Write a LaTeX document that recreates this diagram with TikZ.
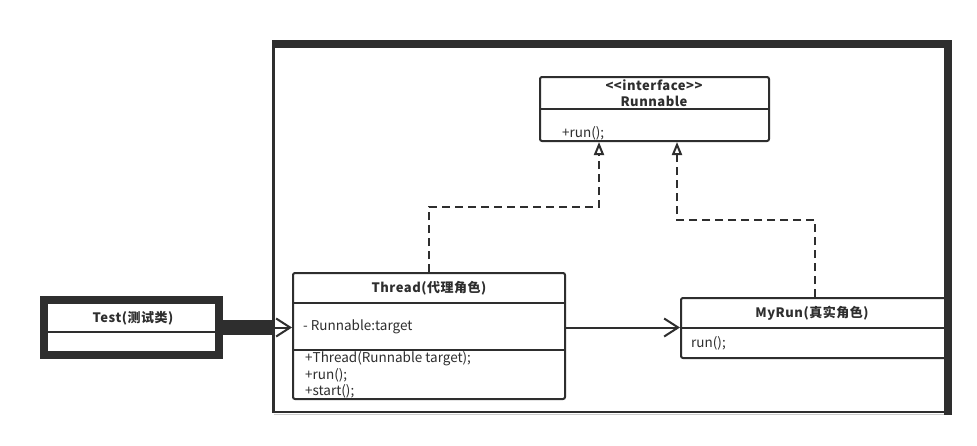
\documentclass[tikz,border=0pt]{standalone}
\usepackage{fontspec}
\setmainfont{Noto Sans CJK SC}
\usepackage{tikz}
\usepackage{xcolor}
\usetikzlibrary{arrows.meta}
\definecolor{ink}{HTML}{2E2E2E}

\begin{document}
\begin{tikzpicture}[x=1pt,y=-1pt,
	box/.style={draw=ink,line width=2pt,rounded corners=2pt,fill=white,inner sep=0pt,anchor=north west},
	title/.style={text=ink,inner sep=0pt,font=\bfseries\fontsize{13}{15}\selectfont\addfontfeature{LetterSpace=4}},
	member/.style={text=ink,inner sep=0pt,anchor=west,font=\fontsize{13.5}{15}\selectfont},
	realize/.style={draw=ink,line width=2pt,dash pattern=on 8pt off 5pt,-{Triangle[open,length=13pt,width=10pt]}},
	assoc/.style={draw=ink,line width=2pt,-{Straight Barb[length=14pt,width=18pt]}}]
% page
	\fill[white] (0,0) rectangle (977,445);
	\useasboundingbox (0,0) rectangle (977,445);
% Runnable
	\node[box,minimum width=229pt,minimum height=64pt] (runnable) at (539,76) {};
	\draw[ink,line width=2pt] (540,109) -- (769,109);
	\node[title] (stereo) at (654,85) {<{}<interface>{}>};
	\node[title] (runnablename) at (654,101) {Runnable};
	\node[member] (runnablerun) at (562,133) {+run();};
% Thread
	\node[box,minimum width=272pt,minimum height=126pt] (thread) at (292,272) {};
	\draw[ink,line width=2pt] (293,303) -- (565,303);
	\draw[ink,line width=2pt] (293,350) -- (565,350);
	\node[title] (threadname) at (429,288) {Thread(代理角色)};
	\node[member] (threadtarget) at (303,327) {- Runnable:target};
	\node[member] (threadnew) at (305,359) {+Thread(Runnable target);};
	\node[member] (threadrun) at (305,375) {+run();};
	\node[member] (threadstart) at (305,391) {+start();};
% MyRun
	\node[box,minimum width=268pt,minimum height=60pt] (myrun) at (680,297) {};
	\draw[ink,line width=2pt] (681,328) -- (946,328);
	\node[title] (myrunname) at (812,313) {MyRun(真实角色)};
	\node[member] (myrunrun) at (691,343) {run();};
% Test
	\node[draw=ink,line width=8pt,minimum width=175pt,minimum height=55pt,inner sep=0pt,anchor=north west] (test) at (40,296) {};
	\draw[ink,line width=2pt] (48,332) -- (216,332);
	\node[title] (testname) at (133,318) {Test(测试类)};
% Test -> Thread
	\coordinate (entry) at (273,327.5);
	\draw[ink,line width=15pt] (test.east) -- (test.east -| entry);
	\draw[assoc] (entry) -- (thread.west |- entry);
% Thread -> MyRun
	\draw[assoc] (thread.east |- entry) -- (myrun.west |- entry);
% Thread ..|> Runnable
	\coordinate (bendA) at (599,207);
	\draw[realize] (thread.north) |- (bendA) -- (bendA |- runnable.south);
% MyRun ..|> Runnable
	\coordinate (bendB) at (677,220);
	\draw[realize] (myrun.north) |- (bendB) -- (bendB |- runnable.south);
% frame
	\fill[ink] (272,40) rectangle (952,48);
	\fill[ink] (944,40) rectangle (952,415);
	\draw[ink,line width=2.5pt] (273.5,48) -- (273.5,413);
	\draw[ink,line width=2pt] (272,412) -- (944,412);
	\draw[gray!40,line width=1.5pt] (274,414.5) -- (944,414.5);
\end{tikzpicture}
\end{document}
